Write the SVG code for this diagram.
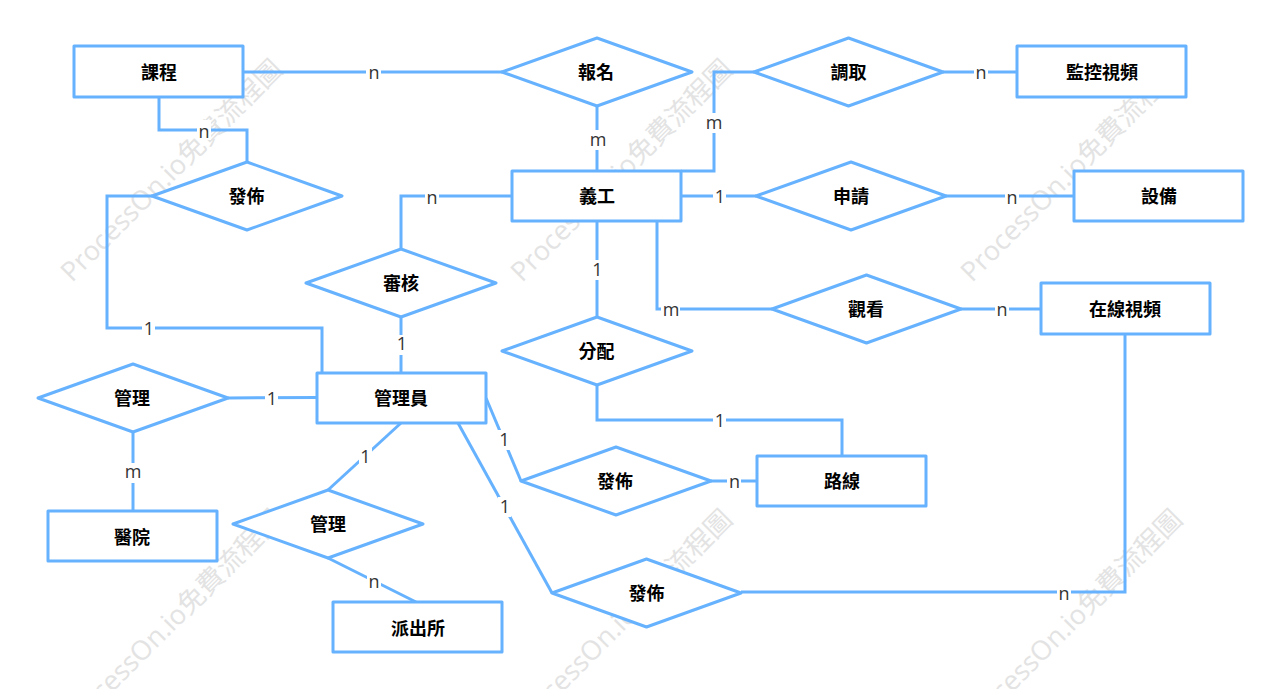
<svg xmlns="http://www.w3.org/2000/svg" width="1280" height="689" viewBox="0 0 1280 689">
<style>
.wm{font-family:"Open Sans","Noto Sans CJK TC",sans-serif;font-size:27px;fill:#e3e3e3}
.n{fill:#fff;stroke:#66b2ff;stroke-width:3;stroke-linejoin:round}
.c{fill:none;stroke:#66b2ff;stroke-width:3}
.t{font-family:"Noto Sans CJK TC","Noto Sans",sans-serif;font-size:18px;font-weight:700;fill:#000;text-anchor:middle;dominant-baseline:central}
.l{font-family:"Open Sans","Noto Sans",sans-serif;font-size:18px;fill:#333;text-anchor:middle}
.b{fill:#fff}
</style>
<rect width="1280" height="689" fill="#fff"/>
<g id="watermarks">
<text class="wm" transform="translate(72,283) rotate(-45)">ProcessOn.io免費流程圖</text>
<text class="wm" transform="translate(522,283) rotate(-45)">ProcessOn.io免費流程圖</text>
<text class="wm" transform="translate(972,283) rotate(-45)">ProcessOn.io免費流程圖</text>
<text class="wm" transform="translate(72,733) rotate(-45)">ProcessOn.io免費流程圖</text>
<text class="wm" transform="translate(522,733) rotate(-45)">ProcessOn.io免費流程圖</text>
<text class="wm" transform="translate(972,733) rotate(-45)">ProcessOn.io免費流程圖</text>
</g>
<g id="connectors">
<path class="c" d="M243 72H502"/>
<path class="c" d="M159 97V130H247V162"/>
<path class="c" d="M152 196H107V328H322V373"/>
<path class="c" d="M597 106V171"/>
<path class="c" d="M681 171H714V72H754"/>
<path class="c" d="M943 72H1017"/>
<path class="c" d="M681 196H756"/>
<path class="c" d="M946 196H1074"/>
<path class="c" d="M512 196H401V249"/>
<path class="c" d="M401 317V373"/>
<path class="c" d="M597 221V317"/>
<path class="c" d="M657 221V309H772"/>
<path class="c" d="M961 309H1041"/>
<path class="c" d="M597 385V420H842V456"/>
<path class="c" d="M228 398L317 397.500"/>
<path class="c" d="M133 432V511"/>
<path class="c" d="M486 398L521 481"/>
<path class="c" d="M711 481H757"/>
<path class="c" d="M401 423L328 490"/>
<path class="c" d="M328 558L416 602"/>
<path class="c" d="M458 423L552 593"/>
<path class="c" d="M741 592H1125V334"/>
</g>
<g id="labels">
<rect class="b" x="366" y="62" width="15" height="20"/><text class="l" x="374" y="79">n</text>
<rect class="b" x="197" y="120" width="14" height="20"/><text class="l" x="204" y="138">n</text>
<rect class="b" x="588" y="130" width="19" height="20"/><text class="l" x="598" y="146">m</text>
<rect class="b" x="704" y="113" width="19" height="20"/><text class="l" x="714" y="129">m</text>
<rect class="b" x="974" y="62" width="14" height="20"/><text class="l" x="981" y="79">n</text>
<rect class="b" x="713" y="186" width="13" height="20"/><text class="l" x="720" y="203">1</text>
<rect class="b" x="1005" y="186" width="14" height="20"/><text class="l" x="1012" y="204">n</text>
<rect class="b" x="425" y="186" width="14" height="20"/><text class="l" x="432" y="204">n</text>
<rect class="b" x="591" y="260" width="13" height="20"/><text class="l" x="597.500" y="276">1</text>
<rect class="b" x="661" y="300" width="19" height="20"/><text class="l" x="671" y="316">m</text>
<rect class="b" x="995" y="299" width="14" height="20"/><text class="l" x="1002" y="316">n</text>
<rect class="b" x="142" y="318" width="13" height="20"/><text class="l" x="149" y="335">1</text>
<rect class="b" x="395" y="335" width="13" height="20"/><text class="l" x="402" y="350">1</text>
<rect class="b" x="265" y="388" width="13" height="20"/><text class="l" x="272" y="405">1</text>
<rect class="b" x="123" y="463" width="19" height="20"/><text class="l" x="133" y="478">m</text>
<rect class="b" x="498" y="430" width="13" height="20"/><text class="l" x="504.500" y="446">1</text>
<rect class="b" x="727" y="471" width="14" height="20"/><text class="l" x="734.500" y="488">n</text>
<rect class="b" x="713" y="411" width="13" height="20"/><text class="l" x="720" y="427">1</text>
<rect class="b" x="359" y="447" width="13" height="20"/><text class="l" x="365.500" y="463">1</text>
<rect class="b" x="367" y="572" width="14" height="20"/><text class="l" x="374" y="588">n</text>
<rect class="b" x="498" y="497" width="13" height="20"/><text class="l" x="505" y="513">1</text>
<rect class="b" x="1057" y="584" width="14" height="20"/><text class="l" x="1064" y="600">n</text>
</g>
<g id="n-kecheng"><rect class="n" x="74" y="46" width="169" height="51"/><text class="t" x="159" y="70.500">課程</text></g>
<g id="n-jiankong"><rect class="n" x="1017" y="46" width="169" height="51"/><text class="t" x="1102" y="70.500">監控視頻</text></g>
<g id="n-yigong"><rect class="n" x="512" y="171" width="169" height="50"/><text class="t" x="597" y="195">義工</text></g>
<g id="n-shebei"><rect class="n" x="1074" y="171" width="169" height="50"/><text class="t" x="1159" y="195">設備</text></g>
<g id="n-zaixian"><rect class="n" x="1041" y="283" width="169" height="51"/><text class="t" x="1125" y="307.500">在線視頻</text></g>
<g id="n-guanliyuan"><rect class="n" x="317" y="373" width="169" height="50"/><text class="t" x="401" y="397">管理員</text></g>
<g id="n-luxian"><rect class="n" x="757" y="456" width="169" height="50"/><text class="t" x="842" y="480">路線</text></g>
<g id="n-yiyuan"><rect class="n" x="48" y="511" width="169" height="50"/><text class="t" x="132" y="536">醫院</text></g>
<g id="n-paichusuo"><rect class="n" x="333" y="602" width="169" height="50"/><text class="t" x="418" y="627">派出所</text></g>
<g id="d-baoming"><path class="n" d="M502 72L597 38L692 72L597 106Z"/><text class="t" x="596" y="71">報名</text></g>
<g id="d-diaoqu"><path class="n" d="M754 72L848.500 38L943 72L848.500 106Z"/><text class="t" x="848.500" y="71">調取</text></g>
<g id="d-fabu1"><path class="n" d="M152 196L247 162L342 196L247 230Z"/><text class="t" x="246.500" y="195">發佈</text></g>
<g id="d-shenqing"><path class="n" d="M756 196L851 162L946 196L851 230Z"/><text class="t" x="851" y="195">申請</text></g>
<g id="d-shenhe"><path class="n" d="M306 283L401 249L496 283L401 317Z"/><text class="t" x="401" y="282">審核</text></g>
<g id="d-guankan"><path class="n" d="M772 309L866.500 275L961 309L866.500 343Z"/><text class="t" x="866" y="308">觀看</text></g>
<g id="d-fenpei"><path class="n" d="M502 351L597 317L692 351L597 385Z"/><text class="t" x="596.500" y="350">分配</text></g>
<g id="d-guanli1"><path class="n" d="M38 398L133 364L228 398L133 432Z"/><text class="t" x="132" y="397">管理</text></g>
<g id="d-fabu2"><path class="n" d="M521 481L616 447L711 481L616 515Z"/><text class="t" x="615" y="480">發佈</text></g>
<g id="d-guanli2"><path class="n" d="M233 524L328 490L423 524L328 558Z"/><text class="t" x="328" y="523">管理</text></g>
<g id="d-fabu3"><path class="n" d="M552 593L646.500 559L741 593L646.500 627Z"/><text class="t" x="646.500" y="592">發佈</text></g>
</svg>
